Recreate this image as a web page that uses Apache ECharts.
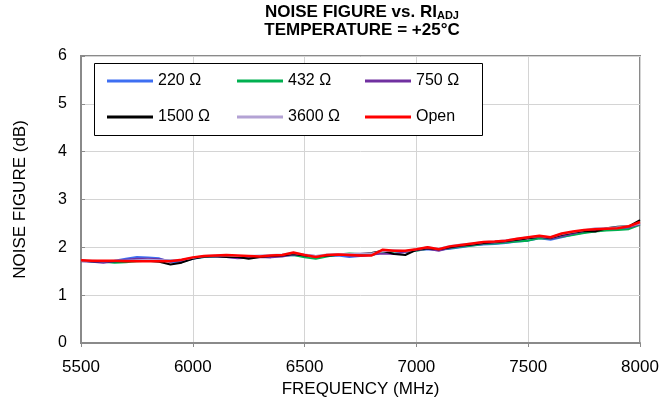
<!DOCTYPE html>
<html><head><meta charset="utf-8">
<script src="https://cdn.jsdelivr.net/npm/echarts@6/dist/echarts.min.js"></script>
<style>html,body{margin:0;padding:0;background:#fff}#c{width:662px;height:404px}</style>
</head><body><div id="c"></div>
<script>
const freq = [5500,5550,5600,5650,5700,5750,5800,5850,5900,5950,6000,6050,6100,6150,6200,6250,6300,6350,6400,6450,6500,6550,6600,6650,6700,6750,6800,6850,6900,6950,7000,7050,7100,7150,7200,7250,7300,7350,7400,7450,7500,7550,7600,7650,7700,7750,7800,7850,7900,7950,8000];
const nf220 = [1.72,1.71,1.70,1.72,1.76,1.80,1.79,1.77,1.69,1.70,1.76,1.80,1.82,1.80,1.79,1.80,1.80,1.82,1.83,1.84,1.82,1.81,1.82,1.83,1.80,1.82,1.84,1.90,1.92,1.92,1.94,1.96,1.95,1.97,2.00,2.04,2.06,2.07,2.09,2.12,2.14,2.19,2.16,2.21,2.27,2.31,2.35,2.37,2.38,2.40,2.50];
const nf432 = [1.72,1.71,1.70,1.68,1.69,1.71,1.72,1.73,1.72,1.73,1.77,1.80,1.81,1.81,1.80,1.81,1.82,1.82,1.83,1.84,1.79,1.76,1.81,1.85,1.87,1.86,1.84,1.90,1.92,1.91,1.93,1.97,1.95,1.98,2.01,2.04,2.07,2.08,2.10,2.12,2.14,2.19,2.18,2.22,2.26,2.30,2.33,2.35,2.36,2.38,2.47];
const nf750 = [1.71,1.70,1.68,1.71,1.74,1.76,1.76,1.75,1.72,1.72,1.77,1.81,1.81,1.80,1.77,1.78,1.80,1.79,1.81,1.85,1.84,1.82,1.83,1.85,1.83,1.82,1.85,1.87,1.86,1.90,1.94,1.97,1.93,1.99,2.03,2.06,2.08,2.10,2.12,2.16,2.19,2.22,2.18,2.23,2.29,2.34,2.37,2.40,2.41,2.42,2.48];
const nf1500 = [1.72,1.71,1.71,1.71,1.71,1.72,1.72,1.70,1.64,1.68,1.76,1.81,1.82,1.80,1.80,1.76,1.80,1.82,1.83,1.86,1.83,1.81,1.83,1.84,1.85,1.86,1.88,1.93,1.86,1.84,1.95,1.98,1.96,2.00,2.04,2.06,2.09,2.11,2.13,2.16,2.19,2.22,2.20,2.26,2.31,2.34,2.33,2.40,2.43,2.44,2.57];
const nf3600 = [1.72,1.72,1.71,1.72,1.72,1.73,1.74,1.73,1.73,1.74,1.78,1.82,1.83,1.83,1.82,1.82,1.83,1.84,1.85,1.88,1.85,1.82,1.85,1.86,1.86,1.87,1.87,1.92,1.94,1.92,1.96,2.00,1.97,2.03,2.06,2.08,2.11,2.12,2.15,2.18,2.21,2.23,2.21,2.28,2.32,2.36,2.40,2.40,2.42,2.44,2.50];
const nfOpen = [1.73,1.72,1.72,1.72,1.71,1.71,1.71,1.71,1.71,1.74,1.79,1.82,1.83,1.84,1.83,1.82,1.81,1.83,1.84,1.89,1.84,1.80,1.84,1.85,1.84,1.83,1.83,1.95,1.93,1.93,1.96,2.00,1.96,2.02,2.05,2.08,2.11,2.12,2.14,2.18,2.21,2.24,2.21,2.29,2.33,2.36,2.38,2.39,2.40,2.44,2.53];
const seriesNames = ['220 Ω','432 Ω','750 Ω','1500 Ω','3600 Ω','Open'];
const seriesData = [nf220, nf432, nf750, nf1500, nf3600, nfOpen];
const seriesColors = ['#3e6ff2','#00b050','#7030a0','#000000','#b3a2d4','#ff0000'];
const xTicks = [5500,6000,6500,7000,7500,8000];
const yTicks = [0,1,2,3,4,5,6];

const FONT = '"Liberation Sans", Arial, sans-serif';
const legendPos = [[107,73],[237,73],[365,73],[107,109],[237,109],[365,109]];

const chart = echarts.init(document.getElementById('c'));
chart.setOption({
  animation:false,
  title:{
    text:'{b|NOISE FIGURE vs. RI}{s|ADJ}\n{b|TEMPERATURE = +25°C}',
    left:362, top:3, textAlign:'center', padding:0,
    textStyle:{rich:{
      b:{fontFamily:FONT,fontWeight:'bold',fontSize:17,color:'#000',lineHeight:18},
      s:{fontFamily:FONT,fontWeight:'bold',fontSize:11,color:'#000',lineHeight:10,verticalAlign:'bottom'}
    }}
  },
  grid:{left:81,right:22,top:56,bottom:61,show:true,borderColor:'#8a8a8a',borderWidth:2,containLabel:false},
  legend: seriesNames.map((n,i)=>({
    data:[n], left:legendPos[i][0], top:legendPos[i][1], itemWidth:46, itemHeight:3, itemGap:0,
    icon:'rect', padding:0, textStyle:{fontFamily:FONT,fontSize:16,color:'#000',padding:[0,0,0,0]}
  })),
  graphic:[{type:'rect',shape:{x:94.5,y:63.5,width:388,height:72},style:{fill:'#fff',stroke:'#000',lineWidth:1},z:1}],
  xAxis:{
    type:'value', min:xTicks[0], max:xTicks[xTicks.length-1], interval:500,
    name:'FREQUENCY (MHz)', nameLocation:'middle', nameGap:37,
    nameTextStyle:{fontFamily:FONT,fontSize:17,color:'#000'},
    axisLine:{show:true,lineStyle:{color:'#8a8a8a',width:2}},
    axisTick:{show:true,inside:false,length:4,lineStyle:{color:'#8a8a8a',width:1}},
    axisLabel:{fontFamily:FONT,fontSize:17,color:'#000',margin:16,formatter:v=>String(v)},
    splitLine:{show:true,lineStyle:{color:'#d4d4d4',width:1}}
  },
  yAxis:{
    type:'value', min:yTicks[0], max:yTicks[yTicks.length-1], interval:1,
    name:'NOISE FIGURE (dB)', nameLocation:'middle', nameGap:52, nameRotate:90,
    nameTextStyle:{fontFamily:FONT,fontSize:17,color:'#000'},
    axisLine:{show:true,lineStyle:{color:'#8a8a8a',width:2}},
    axisTick:{show:true,inside:true,length:4,lineStyle:{color:'#8a8a8a',width:1}},
    axisLabel:{fontFamily:FONT,fontSize:16,color:'#000',margin:14},
    splitLine:{show:true,lineStyle:{color:'#d4d4d4',width:1}}
  },
  series: seriesNames.map((n,i)=>({
    name:n, type:'line', symbol:'none', smooth:false,
    data: freq.map((f,j)=>[f, seriesData[i][j]]),
    color: seriesColors[i],
    lineStyle:{color:seriesColors[i], width: i===5 ? 2.5 : 2},
    z: 2 + i
  }))
});
</script></body></html>
